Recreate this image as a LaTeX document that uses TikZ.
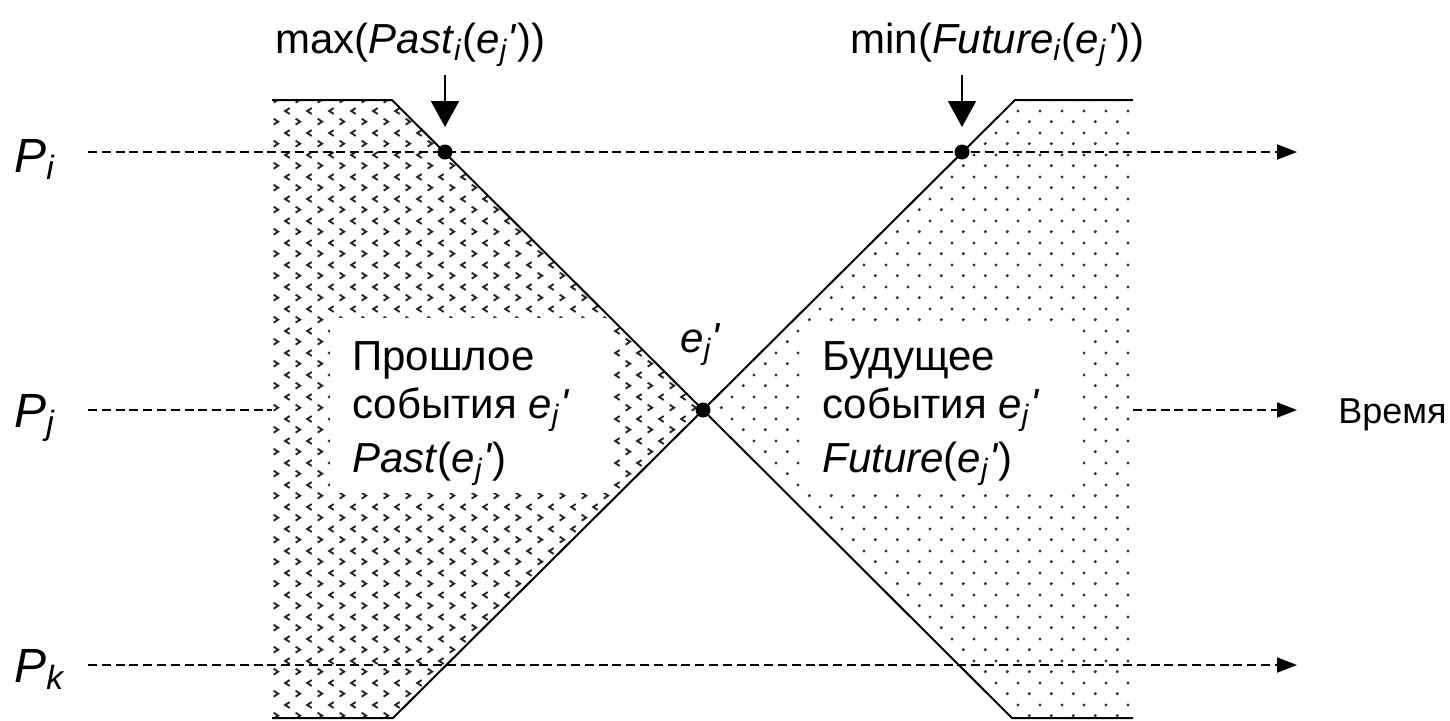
\documentclass[tikz,border=0pt]{standalone}
\usepackage{fontspec}
\setmainfont{Liberation Sans}
\usepackage{textcomp}
\usetikzlibrary{patterns,arrows.meta}

\pgfdeclarepatternformonly{chevr}{\pgfqpoint{0pt}{0pt}}{\pgfqpoint{10.85pt}{10.85pt}}{\pgfqpoint{10.85pt}{10.85pt}}{%
  \pgfsetlinewidth{0.95pt}%
  \pgfpathmoveto{\pgfqpoint{3.9pt}{9.6pt}}%
  \pgfpathlineto{\pgfqpoint{1.6pt}{8.1pt}}%
  \pgfpathlineto{\pgfqpoint{3.9pt}{6.6pt}}%
  \pgfpathmoveto{\pgfqpoint{6.9pt}{4.2pt}}%
  \pgfpathlineto{\pgfqpoint{9.2pt}{2.7pt}}%
  \pgfpathlineto{\pgfqpoint{6.9pt}{1.2pt}}%
  \pgfusepath{stroke}%
}
\pgfdeclarepatternformonly{sdots}{\pgfqpoint{0pt}{0pt}}{\pgfqpoint{10.85pt}{10.85pt}}{\pgfqpoint{10.85pt}{10.85pt}}{%
  \pgfpathcircle{\pgfqpoint{2.7pt}{2.7pt}}{0.85pt}%
  \pgfpathcircle{\pgfqpoint{8.1pt}{8.1pt}}{0.85pt}%
  \pgfusepath{fill}%
}

\newcommand{\ej}{\textit{e}\textsubscript{\textit{j}}\textit{\textquotesingle}}

\begin{document}
\begin{tikzpicture}[x=0.5pt,y=-0.5pt,
  edge/.style={line width=1pt,black},
  dashline/.style={line width=1pt,dash pattern=on 4.5pt off 2.4pt,-{Triangle[length=10pt,width=7.5pt]}},
  dashplain/.style={line width=1pt,dash pattern=on 4.5pt off 2.4pt},
  downarr/.style={line width=1pt,-{Triangle[length=13pt,width=14pt]}},
  dot/.style={circle,fill=black,inner sep=0pt,minimum size=7.5pt},
  toplbl/.style={inner sep=0pt,font=\fontsize{21}{25}\selectfont},
  plbl/.style={inner sep=0pt,font=\fontsize{24}{28}\selectfont},
  boxtxt/.style={inner sep=0pt,anchor=base west,font=\fontsize{21}{25}\selectfont},
  timelbl/.style={inner sep=0pt,font=\fontsize{18}{22}\selectfont},
]
\useasboundingbox (0,0) rectangle (1450,720);

% regions
\fill[pattern=chevr,pattern color=black!85] (272,100) -- (392,100) -- (703,410) -- (393,718) -- (272,718) -- cycle;
\fill[pattern=sdots,pattern color=black!80] (1133,100) -- (1015,100) -- (703,410) -- (1012,718) -- (1133,718) -- cycle;

% white label boxes
\fill[white] (330,318) rectangle (612,493);
\fill[white] (800,322) rectangle (1083,493);

% process lines
\coordinate (pis) at (88,152);
\coordinate (pie) at (1297,152);
\coordinate (pjs) at (88,410);
\coordinate (pjl) at (272,410);
\coordinate (pjr) at (1133,410);
\coordinate (pje) at (1297,410);
\coordinate (pks) at (88,665);
\coordinate (pke) at (1297,665);
\draw[dashline] (pis) -- (pie);
\draw[dashplain] (pjs) -- (pjl);
\draw[dashline] (pjr) -- (pje);
\draw[dashline] (pks) -- (pke);

% boundaries
\coordinate (lt1) at (272,100);
\coordinate (lt2) at (392,100);
\coordinate (rb1) at (1012,718);
\coordinate (rb2) at (1133,718);
\coordinate (rt1) at (1015,100);
\coordinate (rt2) at (1133,100);
\coordinate (lb1) at (393,718);
\coordinate (lb2) at (272,718);
\draw[edge] (lt1) -- (lt2) -- (rb1) -- (rb2);
\draw[edge] (rt2) -- (rt1) -- (lb1) -- (lb2);

% events
\node[dot] (di) at (445,152) {};
\node[dot] (dc) at (703,410) {};
\node[dot] (df) at (962,152) {};

% top arrows
\coordinate (ai) at (445,75);
\coordinate (aie) at (445,127);
\coordinate (af) at (962,75);
\coordinate (afe) at (962,127);
\draw[downarr] (ai) -- (aie);
\draw[downarr] (af) -- (afe);

% labels
\node[toplbl,anchor=base west] (maxl) at (275,53) {max(\textit{Past}\textsubscript{\textit{i}}(\ej))};
\node[toplbl,anchor=base west] (minl) at (850,53) {min(\textit{Future}\textsubscript{\textit{i}}(\ej))};

\node[plbl,anchor=base west] (Pi) at (14,172) {\textit{P}\textsubscript{\textit{i}}};
\node[plbl,anchor=base west] (Pj) at (14,427) {\textit{P}\textsubscript{\textit{j}}};
\node[plbl,anchor=base west] (Pk) at (14,682) {\textit{P}\textsubscript{\textit{k}}};

\node[boxtxt] (ej) at (680,352) {\ej};

\node[boxtxt] (pa1) at (352,370) {Прошлое};
\node[boxtxt] (pa2) at (352,418) {события \ej};
\node[boxtxt] (pa3) at (352,472) {\textit{Past}(\ej)};

\node[boxtxt] (fu1) at (822,370) {Будущее};
\node[boxtxt] (fu2) at (822,418) {события \ej};
\node[boxtxt] (fu3) at (822,472) {\textit{Future}(\ej)};

\node[timelbl,anchor=base west] (time) at (1338,423) {Время};
\end{tikzpicture}
\end{document}
